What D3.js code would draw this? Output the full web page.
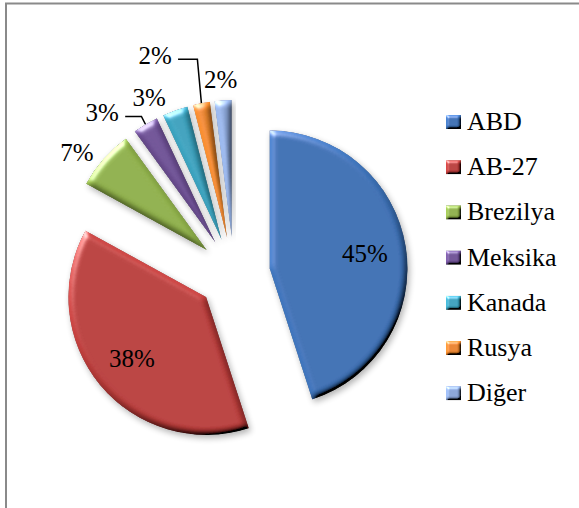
<!DOCTYPE html>
<html>
<head>
<meta charset="utf-8">
<script src="https://cdn.jsdelivr.net/npm/d3@7"></script>
<style>
  body { margin: 0; background: #fff; }
</style>
</head>
<body>
<svg id="pieChart" width="579" height="508"></svg>
<script>
// data
const countries = ['ABD', 'AB-27', 'Brezilya', 'Meksika', 'Kanada', 'Rusya', 'Diğer'];
const shares = [45, 38, 7, 3, 3, 2, 2];
const colors = ['#3b6fb3', '#b93c3a', '#8fb04a', '#6f5196', '#3aa1bd', '#e8842b', '#8aa5d6'];

// label layout for the small slices (angle in degrees, distance from slice tip)
const outsideSpots = {2: [307, 163], 3: [319, 173], 4: [333, 160], 5: [338.5, 197], 6: [356, 159]};
const leaderSlices = [3, 5];

const serif = "'Liberation Serif', 'Tinos', 'DejaVu Serif', serif";

const svg = d3.select('#pieChart');
const width = +svg.attr('width');
const height = +svg.attr('height');

const cx = 234, cy = 274;
const radius = 138;
const explode = 36;

// frame
svg.append('rect')
    .attr('x', 6).attr('y', 3.5)
    .attr('width', width + 20).attr('height', height + 20)
    .attr('fill', 'white')
    .attr('stroke', '#8a8a8a')
    .attr('stroke-width', 2);

const defs = svg.append('defs');

const makeBevel = (id, blur, scale, shadow) => {
    const f = defs.append('filter')
        .attr('id', id)
        .attr('x', '-20%').attr('y', '-20%')
        .attr('width', '140%').attr('height', '140%');
    f.append('feGaussianBlur').attr('in', 'SourceAlpha').attr('stdDeviation', blur).attr('result', 'blur');
    f.append('feDiffuseLighting')
        .attr('in', 'blur').attr('surfaceScale', scale).attr('diffuseConstant', 1)
        .attr('lighting-color', '#ffffff').attr('result', 'diff')
      .append('feDistantLight').attr('azimuth', 235).attr('elevation', 30);
    f.append('feComposite')
        .attr('in', 'SourceGraphic').attr('in2', 'diff')
        .attr('operator', 'arithmetic')
        .attr('k1', 2).attr('k2', 0).attr('k3', 0).attr('k4', 0)
        .attr('result', 'shaded');
    f.append('feComposite').attr('in', 'shaded').attr('in2', 'SourceAlpha').attr('operator', 'in').attr('result', 'shadedIn');
    f.append('feSpecularLighting')
        .attr('in', 'blur').attr('surfaceScale', scale)
        .attr('specularConstant', 0.6).attr('specularExponent', 25)
        .attr('lighting-color', '#ffffff').attr('result', 'spec')
      .append('feDistantLight').attr('azimuth', 235).attr('elevation', 30);
    f.append('feComposite').attr('in', 'spec').attr('in2', 'SourceAlpha').attr('operator', 'in').attr('result', 'specIn');
    f.append('feComposite')
        .attr('in', 'shadedIn').attr('in2', 'specIn')
        .attr('operator', 'arithmetic')
        .attr('k1', 0).attr('k2', 1).attr('k3', 1).attr('k4', 0)
        .attr('result', 'lit');
    const merge = f.append('feMerge');
    if (shadow) {
        f.insert('feGaussianBlur', 'feMerge').attr('in', 'SourceAlpha').attr('stdDeviation', 3).attr('result', 'shBlur');
        f.insert('feOffset', 'feMerge').attr('in', 'shBlur').attr('dx', 2).attr('dy', 3).attr('result', 'shOff');
        f.insert('feComponentTransfer', 'feMerge').attr('in', 'shOff').attr('result', 'shadow')
          .append('feFuncA').attr('type', 'linear').attr('slope', 0.3);
        merge.append('feMergeNode').attr('in', 'shadow');
    }
    merge.append('feMergeNode').attr('in', 'lit');
};
makeBevel('bevel', 3, 3, true);
makeBevel('smallBevel', 1.5, 2, false);

const data = countries.map((c, i) => ({country: c, share: shares[i], color: colors[i], index: i}));

const pie = d3.pie().sort(null).value(d => d.share);
const arcs = pie(data);
const arc = d3.arc().innerRadius(0).outerRadius(radius);

const mid = d => (d.startAngle + d.endAngle) / 2;
const tip = d => [explode * Math.sin(mid(d)), -explode * Math.cos(mid(d))];

const g = svg.append('g').attr('transform', `translate(${cx},${cy})`);

const slices = g.selectAll('g.slice').data(arcs)
  .enter().append('g')
    .attr('class', 'slice')
    .attr('transform', d => `translate(${tip(d)})`);

slices.append('path')
    .attr('d', arc)
    .attr('fill', d => d.data.color)
    .attr('filter', 'url(#bevel)');

// inside labels
const inner = arcs.filter(d => !(d.index in outsideSpots));
g.selectAll('text.inside').data(inner)
  .enter().append('text')
    .attr('class', 'inside')
    .attr('text-anchor', 'middle')
    .attr('dy', '0.35em')
    .attr('font-family', serif)
    .attr('font-size', 25)
    .attr('x', d => tip(d)[0] + radius * 0.7 * Math.sin(mid(d)))
    .attr('y', d => tip(d)[1] - radius * 0.7 * Math.cos(mid(d)))
    .text(d => d.data.share + '%');

// outside labels
const outer = arcs.filter(d => d.index in outsideSpots);
const spot = d => {
    const [deg, dist] = outsideSpots[d.index];
    const a = deg * Math.PI / 180;
    return [tip(d)[0] + dist * Math.sin(a), tip(d)[1] - dist * Math.cos(a)];
};

g.selectAll('text.outside').data(outer)
  .enter().append('text')
    .attr('class', 'outside')
    .attr('text-anchor', 'middle')
    .attr('dy', '0.35em')
    .attr('font-family', serif)
    .attr('font-size', 25)
    .attr('x', d => spot(d)[0])
    .attr('y', d => spot(d)[1])
    .text(d => d.data.share + '%');

// leader lines
g.selectAll('path.leader').data(arcs.filter(d => leaderSlices.includes(d.index)))
  .enter().append('path')
    .attr('class', 'leader')
    .attr('fill', 'none')
    .attr('stroke', '#000')
    .attr('stroke-width', 1.5)
    .attr('d', d => {
        const [lx, ly] = spot(d);
        const ex = tip(d)[0] + radius * Math.sin(mid(d));
        const ey = tip(d)[1] - radius * Math.cos(mid(d));
        return `M${lx + 23},${ly + 4}H${ex - 4}L${ex},${ey}`;
    });

// legend
const legend = svg.append('g').attr('transform', 'translate(446,122)');
const rows = legend.selectAll('g').data(data)
  .enter().append('g')
    .attr('transform', (d, i) => `translate(0,${i * 45.2})`);
rows.append('rect')
    .attr('x', 0).attr('y', -7)
    .attr('width', 15).attr('height', 14)
    .attr('fill', d => d.color)
    .attr('filter', 'url(#smallBevel)');
rows.append('text')
    .attr('x', 21).attr('y', 8)
    .attr('font-family', serif)
    .attr('font-size', 26)
    .text(d => d.country);
</script>
</body>
</html>
